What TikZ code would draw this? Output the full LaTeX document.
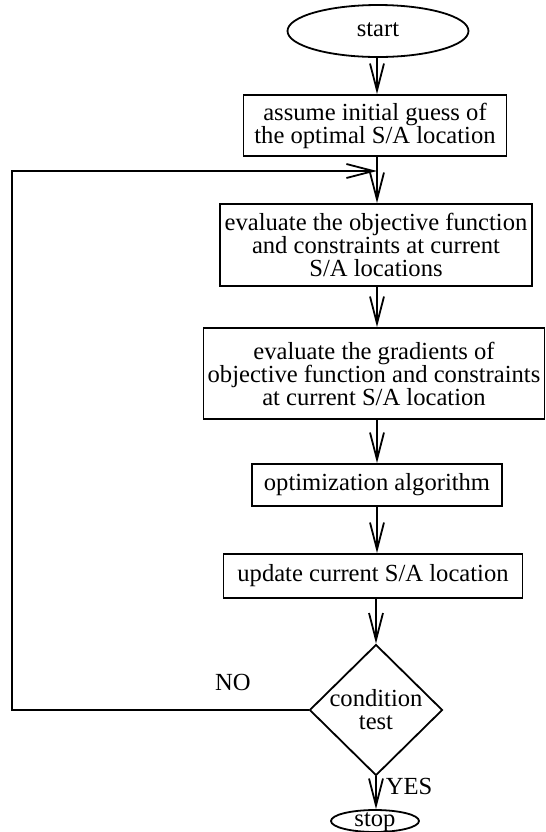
\documentclass[tikz,border=0pt]{standalone}
\usepackage{fontspec}
\setmainfont{Liberation Serif}
\usepackage{tikz}
\usetikzlibrary{arrows.meta,shapes.geometric}

\begin{document}
\begin{tikzpicture}[x=0.5pt, y=-0.5pt, >={Straight Barb[length=13.5pt,width=7pt]}, line width=0.9pt, %坐标以像素计, y向下
    every node/.style={font=\fontsize{12.3}{11.5}\selectfont},
    stepbox/.style={draw, rectangle, inner sep=0pt, align=center},
    endpoint/.style={draw, ellipse, inner sep=0pt, text height=6.5pt, text depth=1pt},
    testbox/.style={draw, diamond, inner sep=-1.5pt, align=center, minimum width=66.5pt, minimum height=65.5pt}]
    \useasboundingbox (0,0) rectangle (546,832); %固定画布大小

    \node[endpoint, minimum width=90.5pt, minimum height=26pt] (start) at (378,31) {start};
    \node[stepbox, minimum width=131.5pt, minimum height=30.5pt] (guess) at (375,125.5) {assume initial guess of\\the optimal S/A location};
    \node[stepbox, minimum width=156pt, minimum height=41pt] (evalobj) at (376,245) {evaluate the objective function\\and constraints at current\\S/A locations};
    \node[stepbox, minimum width=170.5pt, minimum height=45.5pt] (evalgrad) at (374,373.5) {evaluate the gradients of\\objective function and constraints\\at current S/A location};
    \node[stepbox, minimum width=125pt, minimum height=21pt] (optim) at (377,485) {optimization algorithm};
    \node[stepbox, minimum width=149.5pt, minimum height=22pt] (update) at (373,576) {update current S/A location};
    \node[testbox] (test) at (376,710) {condition\\test}; %判断条件
    \node[endpoint, minimum width=44pt, minimum height=11pt] (stop) at (375,821) {stop};

    \node (no) at (233,682) {NO};
    \node (yes) at (409,786) {YES};

    %%主流程箭头, 均沿竖直方向
    \draw[->] (start.south -| 377,0) -- (guess.north -| 377,0);
    \draw[->] (guess.south -| 377,0) -- (evalobj.north -| 377,0);
    \draw[->] (evalobj.south -| 377,0) -- (evalgrad.north -| 377,0);
    \draw[->] (evalgrad.south -| 377,0) -- (optim.north -| 377,0);
    \draw[->] (optim.south -| 377,0) -- (update.north -| 377,0);
    \draw[->] (update.south -| 376,0) -- (test.north);
    \draw[->] (test.south) -- (stop.north -| test.south);

    %%NO 分支: 从判断框左侧绕回
    \coordinate (back) at (12,171);
    \coordinate (loopend) at (377,171);
    \draw[->] (test.west) -| (back) -- (loopend);
\end{tikzpicture}
\end{document}
